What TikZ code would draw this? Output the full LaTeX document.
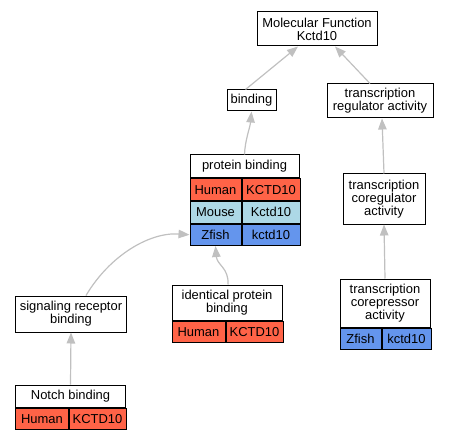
\documentclass[tikz,border=0pt]{standalone}
\usepackage{fontspec}
\setmainfont{Liberation Sans}
\usetikzlibrary{arrows.meta,positioning}

\definecolor{human}{RGB}{255,99,71}
\definecolor{mouse}{RGB}{173,216,230}
\definecolor{zfish}{RGB}{100,149,237}
\definecolor{edgegray}{RGB}{192,192,192}

\tikzset{
	term/.style={draw, line width=1bp, fill=white, align=center, inner sep=0pt, font=\fontsize{13}{13}\selectfont},
	cell/.style={term, anchor=north west, minimum height=21.5bp},
	isa/.style={draw=edgegray, line width=1.2bp, -{Triangle[length=11bp,width=8.5bp]}}
}

\begin{document}
\begin{tikzpicture}[x=1bp, y=-1bp]

	\useasboundingbox (0,0) rectangle (451,440);

	% top of the graph
	\node[term, minimum width=120bp, minimum height=34bp] (MF) at (317,29) {Molecular Function\\Kctd10};
	\node[term, minimum width=49bp, minimum height=21bp] (binding) at (251.5,100.5) {binding};
	\node[term, minimum width=106bp, minimum height=34bp] (tra) at (380,101) {transcription\\regulator activity};

	% protein binding with its table
	\node[term, minimum width=109bp, minimum height=23bp] (pb) at (244.5,166.5) {protein binding};
	\node[cell, fill=human, minimum width=51bp] (pbHs) at (pb.south west) {Human};
	\node[cell, fill=human, minimum width=58bp] (pbHsG) at (pbHs.north east) {KCTD10};
	\node[cell, fill=mouse, minimum width=51bp] (pbMm) at (pbHs.south west) {Mouse};
	\node[cell, fill=mouse, minimum width=58bp] (pbMmG) at (pbMm.north east) {Kctd10};
	\node[cell, fill=zfish, minimum width=51bp] (pbZf) at (pbMm.south west) {Zfish};
	\node[cell, fill=zfish, minimum width=58bp] (pbZfG) at (pbZf.north east) {kctd10};

	\node[term, minimum width=82bp, minimum height=50bp] (coreg) at (384,199) {transcription\\coregulator\\activity};

	% lower terms
	\node[term, minimum width=110bp, minimum height=36bp] (srb) at (71,314) {signaling receptor\\binding};

	\node[term, minimum width=110bp, minimum height=35bp] (ipb) at (227,302.5) {identical protein\\binding};
	\node[cell, fill=human, minimum width=53bp] (ipbHs) at (ipb.south west) {Human};
	\node[cell, fill=human, minimum width=57bp] (ipbHsG) at (ipbHs.north east) {KCTD10};

	\node[term, minimum width=90bp, minimum height=48bp] (corep) at (385,303) {transcription\\corepressor\\activity};
	\node[cell, fill=zfish, minimum width=41bp] (corepZf) at (corep.south west) {Zfish};
	\node[cell, fill=zfish, minimum width=49bp] (corepZfG) at (corepZf.north east) {kctd10};

	\node[term, minimum width=109bp, minimum height=22bp] (notch) at (70.5,396) {Notch binding};
	\node[cell, fill=human, minimum width=52bp] (notchHs) at (notch.south west) {Human};
	\node[cell, fill=human, minimum width=57bp] (notchHsG) at (notchHs.north east) {KCTD10};

	% is_a edges
	\draw[isa] ([xshift=-6bp]binding.north) -- ([xshift=-19bp]MF.south);
	\draw[isa] ([xshift=-10bp]tra.north) -- ([xshift=18bp]MF.south);
	\draw[isa] (pb.north) .. controls (245,140) and (250,128) .. (binding.south);
	\draw[isa] (coreg.north) -- ([xshift=2bp]tra.south);
	\draw[isa] (corep.north) -- (coreg.south);
	\draw[isa] ([xshift=15bp]srb.north) .. controls (110,255) and (150,232) .. (pbZf.west);
	\draw[isa] ([xshift=1bp]ipb.north) .. controls (229,268) and (217,265) .. (pbZf.south);
	\draw[isa] (notch.north) -- (srb.south);

\end{tikzpicture}
\end{document}
